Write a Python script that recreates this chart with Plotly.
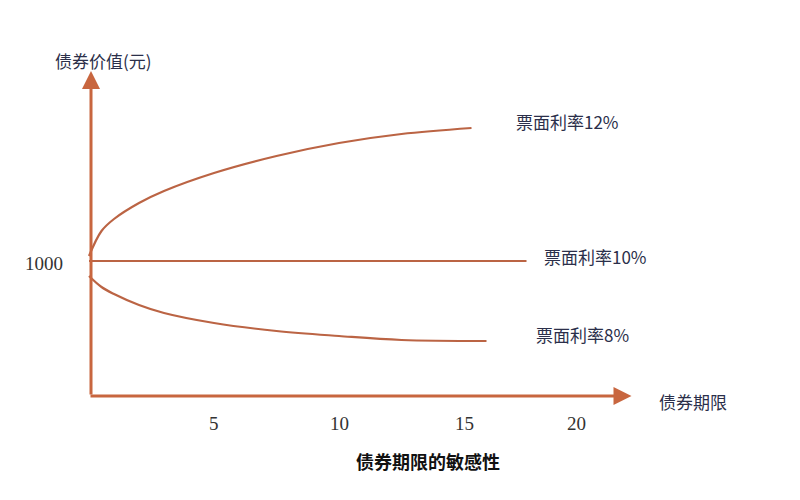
import plotly.graph_objects as go

years_12 = [0, 0.5, 1, 2, 3, 5, 7.5, 10, 12.5, 15.3]
value_12 = [1005, 1030, 1042, 1058, 1070, 1088, 1105, 1118, 1127, 1133]
years_10 = [0, 17.5]
value_10 = [1000, 1000]
years_8 = [0, 0.5, 1, 2, 3, 5, 7.5, 10, 12.5, 15.9]
value_8 = [985, 974, 967, 956, 948, 938, 930, 925, 921, 920]
series_labels = ["票面利率12%", "票面利率10%", "票面利率8%"]
x_ticks = [5, 10, 15, 20]

curve_col = "#bb6444"
axis_col = "#c8663f"
txt_col = "#2b2f4a"
font_cn = "Noto Sans CJK SC"

fig = go.Figure()
for xs, ys in [(years_12, value_12), (years_10, value_10), (years_8, value_8)]:
    fig.add_trace(go.Scatter(x=xs, y=ys, mode="lines", line=dict(color=curve_col, width=2.2, shape="spline"), hoverinfo="skip"))

ann = []
ann.append(dict(x=0.08, y=1190, ax=0.08, ay=865, xref="x", yref="y", axref="x", ayref="y", showarrow=True, arrowhead=2, arrowsize=1.2, arrowwidth=3, arrowcolor=axis_col, text=""))
ann.append(dict(x=21.7, y=865, ax=0.0, ay=865, xref="x", yref="y", axref="x", ayref="y", showarrow=True, arrowhead=2, arrowsize=1.2, arrowwidth=3, arrowcolor=axis_col, text=""))
for t in x_ticks:
    ann.append(dict(x=t, y=838, text=str(t), showarrow=False, xshift=-13 if t == 20 else 0, font=dict(family="Liberation Serif", size=19, color="#333")))
ann.append(dict(x=-1.8, y=998, text="1000", showarrow=False, font=dict(family="Liberation Serif", size=19, color="#333")))
ann.append(dict(x=17.0, y=1140, text=series_labels[0], showarrow=False, xanchor="left", font=dict(family=font_cn, size=17, color=txt_col)))
ann.append(dict(x=18.1, y=1005, text=series_labels[1], showarrow=False, xanchor="left", font=dict(family=font_cn, size=17, color=txt_col)))
ann.append(dict(x=17.8, y=927, text=series_labels[2], showarrow=False, xanchor="left", font=dict(family=font_cn, size=17, color=txt_col)))
ann.append(dict(x=45/800, y=1-38/500, xref="paper", yref="paper", text="债券价值(元)", showarrow=False, font=dict(family=font_cn, size=17, color=txt_col)))
ann.append(dict(x=22.7, y=860, text="债券期限", showarrow=False, xanchor="left", font=dict(family=font_cn, size=17, color=txt_col)))
ann.append(dict(x=420/800, y=1-468/500, xref="paper", yref="paper", text="<b>债券期限的敏感性</b>", showarrow=False, font=dict(family=font_cn, size=18, color="#111")))

fig.update_layout(
    width=800, height=500, autosize=False, showlegend=False,
    margin=dict(l=0, r=0, t=0, b=0, pad=0),
    paper_bgcolor="white", plot_bgcolor="white",
    xaxis=dict(range=[-3.24, 28.76], visible=False, fixedrange=True),
    yaxis=dict(range=[753, 1253], visible=False, fixedrange=True),
    annotations=ann,
)
fig.write_html("out.html")
